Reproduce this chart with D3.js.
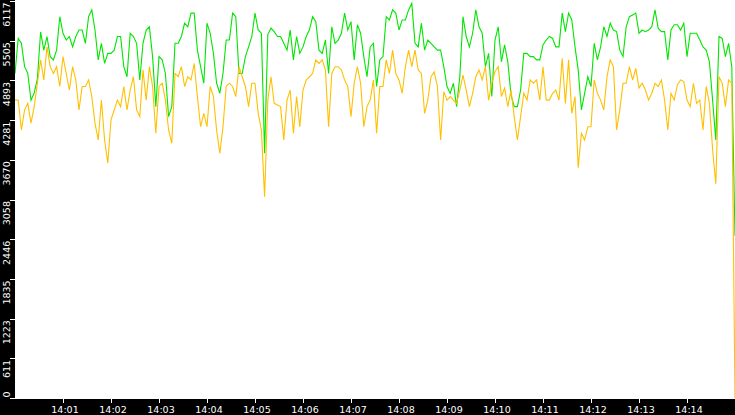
<!DOCTYPE html>
<html>
<head>
<meta charset="utf-8">
<script src="https://cdn.jsdelivr.net/npm/d3@7"></script>
<style>
  html, body { margin: 0; padding: 0; background: #000; }
  svg { display: block; }
  .axis text { fill: #fff; font-family: "DejaVu Sans", sans-serif; }
  .axis line { stroke: #fff; }
</style>
</head>
<body>
<div id="chart"></div>
<script>
// samples every 4 seconds from 14:00:00 to 14:15:00
var startTime = new Date(2020, 0, 1, 14, 0, 0);
var stepSeconds = 4;

var greenValues = [
  5000,5540,5465,5105,5000,4590,4700,4920,5640,5360,
  5570,5260,5210,5360,5875,5620,5515,5570,5410,5570,
  5670,5670,5465,5875,5980,5670,5210,5465,5155,5310,
  5310,5360,5570,5570,5105,4950,5620,5570,5465,4900,
  5465,5670,5720,5260,4490,5260,5210,5000,4335,4490,
  5465,5465,5570,5775,5720,5930,5930,5360,5105,4850,
  5775,5620,5310,4850,4695,5000,5515,5515,5930,5875,
  5000,5000,5260,5410,
  5570,5930,5670,5620,3770,5600,5700,5645,5570,5570,
  5465,5360,5670,5210,5570,5310,5410,5570,5670,5875,
  5800,5360,5310,5515,5000,5720,5465,5515,5620,5930,
  5670,5800,5210,5750,5620,5260,4950,5410,5465,4800,
  5210,5260,5875,5825,5980,5930,5670,5825,5825,5980,
  6080,5465,5410,5775,5360,5515,5465,5410,5360,5360,
  5105,4800,4695,4850,4490,4950,5875,5570,5410,5620,
  5980,5720,5620,5105,5310,
  4645,5515,5720,5180,5440,5180,4670,4490,4490,4745,
  5310,5310,5260,5260,5210,5210,5440,5515,5570,5540,
  5410,5410,5930,5645,5930,5825,5410,5055,4440,4695,
  4950,4800,5465,5210,5410,5720,5570,5775,5670,5645,
  5360,5260,5720,5875,5900,5930,5620,5670,5645,5670,
  5720,5980,5695,5645,5645,5210,5670,5750,5750,5670,
  5775,5260,5620,5620,5620,5515,5410,5360,5180,4590,
  3975,5570,5540,5260,5465,5100,2500
];

var orangeValues = [
  4590,4590,4130,4440,4540,4235,4490,4850,5210,4900,
  5410,5105,5000,5105,4800,5260,5000,4745,5105,4900,
  4440,4800,4800,4900,4645,4235,3975,4590,3975,3620,
  4285,4440,4590,4490,4800,4440,4745,4950,4440,4335,
  5055,4590,5105,4800,4080,4800,4850,4590,4130,3925,
  5000,4950,5105,4800,4950,4900,5155,4645,4180,4385,
  4180,4800,4645,4130,3770,4180,4800,4850,4800,4645,
  5105,4950,4800,4490,
  4850,4850,4385,4130,3100,4590,4950,4540,4515,4490,
  3975,4590,4745,4080,4645,4180,4745,4900,4950,5000,
  5210,5155,5210,5055,4180,5000,5105,5105,5055,4900,
  4800,4335,4850,5105,4850,4180,4490,4590,4900,4080,
  4800,4800,5210,5000,5360,5000,4900,4695,5105,5360,
  5105,5360,5055,5000,4385,4590,4950,5025,4800,3975,
  4720,4590,4645,4590,4540,4745,4975,4745,4490,4695,
  4950,5055,4900,5105,4590,
  4850,5030,5105,4645,4775,4490,4745,4335,3975,4335,
  4695,4590,4900,4850,4900,4590,5105,4590,4590,4695,
  4745,4590,5235,4540,5210,4385,4645,3550,4080,3975,
  4180,4180,4900,4695,4590,4440,4950,5210,5105,4130,
  4440,4850,4850,5105,4900,5080,4775,4850,4745,4590,
  4695,4850,4800,4900,4590,4130,4695,4590,4825,4900,
  4875,4590,4490,4850,4540,4590,4130,4800,4540,3825,
  3300,4950,4850,4490,4900,4850,0
];

var yMax = 6117;
var yTickLabels = ["0","611","1223","1835","2446","3058","3670","4281","4893","5505","6117"];
var xTickLabels = ["14:01","14:02","14:03","14:04","14:05","14:06","14:07",
                   "14:08","14:09","14:10","14:11","14:12","14:13","14:14"];

var width = 735, height = 415;
var left = 15, bottom = 399;

var times = greenValues.map(function(d, i) {
  return new Date(startTime.getTime() + i * stepSeconds * 1000);
});

var x = d3.scaleTime()
    .domain([startTime, d3.timeMinute.offset(startTime, 15)])
    .range([left, width]);
var y = d3.scaleLinear()
    .domain([0, yMax])
    .range([398, 1]);

var svg = d3.select("#chart").append("svg")
    .attr("width", width)
    .attr("height", height);

svg.append("rect")
    .attr("width", width)
    .attr("height", height)
    .attr("fill", "#000");

svg.append("rect")
    .attr("x", left)
    .attr("y", 0)
    .attr("width", width - left)
    .attr("height", bottom)
    .attr("fill", "#fff");

svg.append("clipPath").attr("id", "plot")
  .append("rect")
    .attr("x", left)
    .attr("y", 0)
    .attr("width", width - left)
    .attr("height", bottom);

function drawSeries(values, color) {
  var line = d3.line()
      .x(function(d, i) { return x(times[i]); })
      .y(function(d) { return y(d); });
  svg.append("path")
      .datum(values)
      .attr("clip-path", "url(#plot)")
      .attr("fill", "none")
      .attr("stroke", color)
      .attr("stroke-width", 1.1)
      .attr("stroke-linejoin", "miter")
      .attr("d", line);
}

drawSeries(greenValues, "#00e600");
drawSeries(orangeValues, "#ffc000");

// y axis, labels rotated
var yAxis = svg.append("g")
    .attr("class", "axis")
    .attr("transform", "translate(" + left + ",0)")
    .call(d3.axisLeft(y)
      .tickValues(yTickLabels.map(Number))
      .tickFormat(function(d, i) { return yTickLabels[i]; })
      .tickSize(5)
      .tickPadding(0));
yAxis.select(".domain").remove();
yAxis.selectAll("line").attr("shape-rendering", "crispEdges");
yAxis.selectAll("text")
    .attr("transform", "rotate(-90)")
    .attr("font-size", 9.5)
    .attr("dy", null)
    .attr("y", -5.5)
    .attr("x", function(d) { return d === 0 ? 1 : -1; })
    .attr("text-anchor", function(d) { return d === 0 ? "start" : "end"; });

// x axis
var xTicks = xTickLabels.map(function(s) {
  var p = s.split(":");
  return new Date(2020, 0, 1, +p[0], +p[1], 0);
});
var xAxis = svg.append("g")
    .attr("class", "axis")
    .attr("transform", "translate(0," + bottom + ")")
    .call(d3.axisBottom(x)
      .tickValues(xTicks)
      .tickFormat(function(d, i) { return xTickLabels[i]; })
      .tickSize(4)
      .tickSizeOuter(0));
xAxis.select(".domain").remove();
xAxis.selectAll("line").attr("shape-rendering", "crispEdges");
xAxis.selectAll("text")
    .attr("font-size", 9.5)
    .attr("dy", null)
    .attr("y", 14)
    .attr("dx", 1.5);
</script>
</body>
</html>
